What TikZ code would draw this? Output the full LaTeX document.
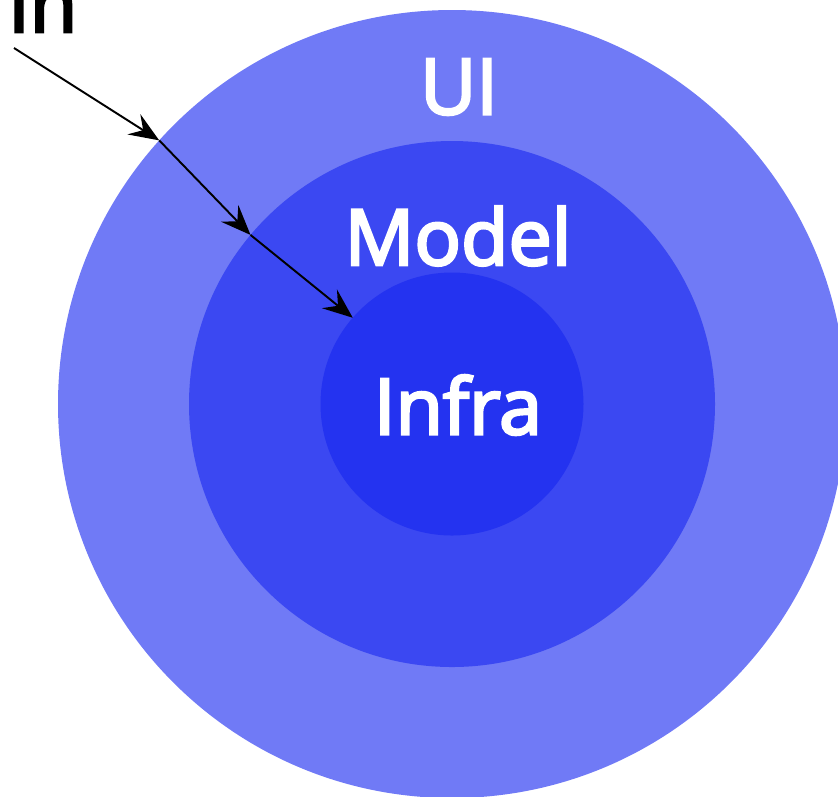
\documentclass[tikz,border=0pt]{standalone}
\usepackage{fontspec}
\setmainfont{Open Sans}
\newfontfamily\semibold[FakeBold=3.5]{Open Sans}
\usetikzlibrary{arrows.meta}
\definecolor{uiblue}{RGB}{112,122,246}
\definecolor{modelblue}{RGB}{59,72,242}
\definecolor{infrablue}{RGB}{36,51,240}

\begin{document}
\begin{tikzpicture}[x=0.02cm,y=-0.02cm,
   layer/.style={circle,inner sep=0pt,outer sep=0pt},
   lbl/.style={white,font=\fontsize{44}{48}\semibold},
   flow/.style={black,line width=1.1pt,-{Stealth[length=6mm,width=4.8mm,inset=2.2mm]}}]
   \useasboundingbox (0,0) rectangle (838,796);
   \clip (0,0) rectangle (838,796);
   \node[layer,fill=uiblue,minimum size=788*0.02cm] (ui) at (452,404) {};
   \node[layer,fill=modelblue,minimum size=526*0.02cm] (model) at (452,404) {};
   \node[layer,fill=infrablue,minimum size=263*0.02cm] (infra) at (452,404) {};
   \node[lbl] (uitext) at (459,87) {UI};
   \node[lbl] (modeltext) at (458,236) {Model};
   \node[lbl] (infratext) at (458,405) {Infra};
   \node[black,font=\fontsize{44}{48}\semibold,anchor=base west] (in) at (2,32) {In};
   \coordinate (start) at (14,48);
   \draw[flow] (start) -- (ui.138.7);
   \draw[flow] (ui.138.7) -- (model.140.5);
   \draw[flow] (model.140.5) -- (infra.139.8);
  \end{tikzpicture}
\end{document}
